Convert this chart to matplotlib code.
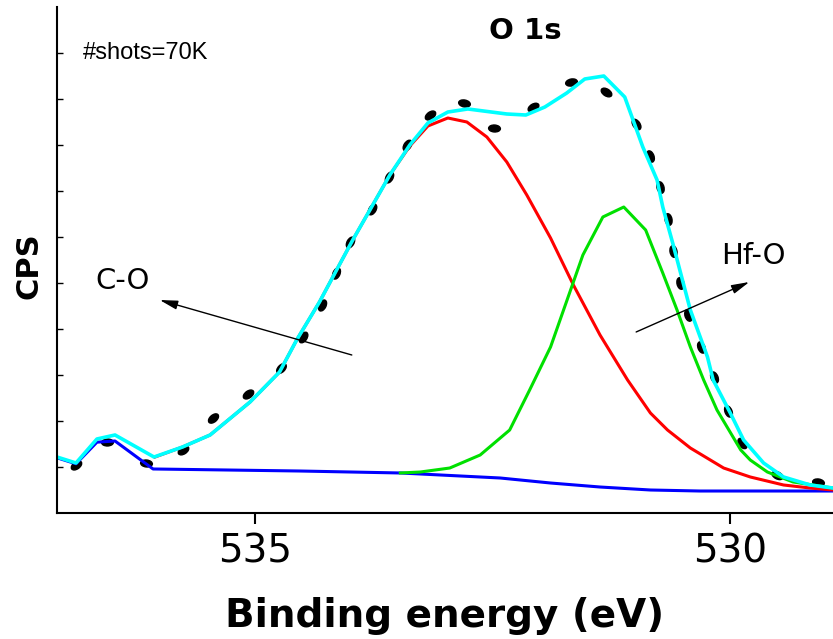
import numpy as np
import matplotlib.pyplot as plt
from matplotlib.markers import MarkerStyle
from matplotlib.transforms import Affine2D

# measured spectrum (binding energy in eV, counts per second)
data_ev = [536.88, 536.55, 536.14, 535.76, 535.44, 535.07, 534.72, 534.49, 534.29,
           534.15, 534.00, 533.77, 533.59, 533.40, 533.16, 532.80, 532.48, 532.07,
           531.67, 531.31, 530.99, 530.84, 530.74, 530.66, 530.60, 530.53, 530.44,
           530.31, 530.17, 530.02, 529.88, 529.51, 529.08]
data_cps = [1043, 1543, 1087, 1370, 2065, 2587, 3152, 3826, 4522,
            5217, 5891, 6609, 7304, 8000, 8652, 8913, 8370, 8826,
            9370, 9152, 8457, 7761, 7087, 6391, 5696, 5000, 4304,
            3609, 2957, 2217, 1522, 826, 674]

# envelope of the fit
fit_ev = [537.08, 536.88, 536.66, 536.47, 536.06, 535.76, 535.47, 535.05, 534.74,
          534.56, 534.32, 534.14, 533.97, 533.79, 533.58, 533.37, 533.18, 532.97,
          532.76, 532.35, 532.15, 531.95, 531.72, 531.53, 531.33, 531.11, 530.92,
          530.77, 530.71, 530.60, 530.42, 530.24, 530.18, 530.00, 529.86, 529.65,
          529.44, 529.16, 528.92]
fit_cps = [1217, 1087, 1609, 1696, 1217, 1435, 1696, 2413, 3065,
           3761, 4587, 5283, 5935, 6587, 7348, 8000, 8478, 8717,
           8783, 8674, 8652, 8826, 9130, 9435, 9500, 9043, 7957,
           7239, 6652, 5826, 4413, 3391, 2891, 2174, 1587, 1087,
           783, 609, 543]

# C-O component
co_ev = [536.05, 535.76, 535.47, 535.05, 534.74, 534.56, 534.32, 534.14, 533.97,
         533.79, 533.58, 533.37, 533.18, 532.97, 532.77, 532.56, 532.35, 532.14,
         531.89, 531.65, 531.37, 531.08, 530.84, 530.66, 530.42, 530.07, 529.79,
         529.44, 529.16, 528.92]
co_cps = [1217, 1435, 1696, 2413, 3065, 3761, 4587, 5283, 5935,
          6587, 7348, 7978, 8413, 8587, 8500, 8174, 7630, 6913,
          5978, 4957, 3870, 2891, 2174, 1804, 1413, 978, 783,
          609, 543, 500]

# Hf-O component
hfo_ev = [533.47, 533.26, 532.95, 532.63, 532.32, 532.11, 531.89, 531.55, 531.34,
          531.12, 530.89, 530.71, 530.56, 530.42, 530.28, 530.14, 529.89, 529.79,
          529.61, 529.34, 528.92]
hfo_cps = [870, 891, 978, 1261, 1804, 2674, 3609, 5609, 6435,
           6652, 6152, 5217, 4413, 3609, 2891, 2239, 1370, 1152,
           891, 674, 543]

# background
bg_ev = [537.08, 536.88, 536.66, 536.47, 536.07, 534.53, 533.47, 532.42, 531.89,
         531.37, 530.84, 530.32, 528.92]
bg_cps = [1200, 1070, 1540, 1565, 957, 913, 870, 761, 652,
          565, 500, 478, 478]

fig = plt.figure(figsize=(8.33, 6.39), dpi=100)
ax = fig.add_axes([57 / 833, 126 / 639, 776 / 833, 506 / 639])

ax.set_xlim(537.08, 528.92)
ax.set_ylim(0, 11000)

for s in ['top', 'right']:
    ax.spines[s].set_visible(False)
for s in ['left', 'bottom']:
    ax.spines[s].set_linewidth(1.5)

ax.set_xticks([535, 530])
ax.tick_params(axis='x', direction='out', length=8, width=1.5, labelsize=28, pad=6)
ax.set_yticks(np.arange(1000, 10001, 1000))
ax.set_yticklabels([])
ax.tick_params(axis='y', direction='in', length=4, width=1)

# data marks, each stretched along the curve
pts = ax.transData.transform(np.column_stack([data_ev, data_cps]))
n = len(pts)
for i in range(n):
    a = pts[max(i - 1, 0)]
    b = pts[min(i + 1, n - 1)]
    ang = np.degrees(np.arctan2(b[1] - a[1], b[0] - a[0]))
    m = MarkerStyle('o', transform=Affine2D().scale(1.7, 1).rotate_deg(ang))
    ax.plot(data_ev[i], data_cps[i], marker=m, ms=5, color='k', ls='none')

ax.plot(bg_ev, bg_cps, color='#0000FF', lw=2.2)
ax.plot(co_ev, co_cps, color='#FF0000', lw=2.2)
ax.plot(hfo_ev, hfo_cps, color='#00E000', lw=2.2)
ax.plot(fit_ev, fit_cps, color='#00FFFF', lw=2.6)

ax.set_xlabel('Binding energy (eV)', fontsize=28, fontweight='bold')
ax.xaxis.set_label_coords(0.5, -0.166)
ax.set_ylabel('CPS', fontsize=22, fontweight='bold', va='center')
ax.yaxis.set_label_coords(-0.036, 0.488)

ax.text(0.603, 0.953, 'O 1s', transform=ax.transAxes, fontsize=21,
        fontweight='bold', ha='center', va='center')
ax.text(0.0335, 0.909, '#shots=70K', transform=ax.transAxes, fontsize=17,
        family='Liberation Sans', ha='left', va='center')

ax.text(536.68, 5043, 'C-O', fontsize=21, ha='left', va='center')
ax.text(530.095, 5587, 'Hf-O', fontsize=21, ha='left', va='center')

arrow = dict(arrowstyle='-|>,head_length=0.6,head_width=0.15', mutation_scale=18,
             lw=1, color='k', shrinkA=0, shrinkB=0)
ax.annotate('', xy=(536.0, 4630), xytext=(533.98, 3435), arrowprops=arrow)
ax.annotate('', xy=(529.8, 5022), xytext=(530.99, 3935), arrowprops=arrow)

fig.savefig('out.png', dpi=100)
